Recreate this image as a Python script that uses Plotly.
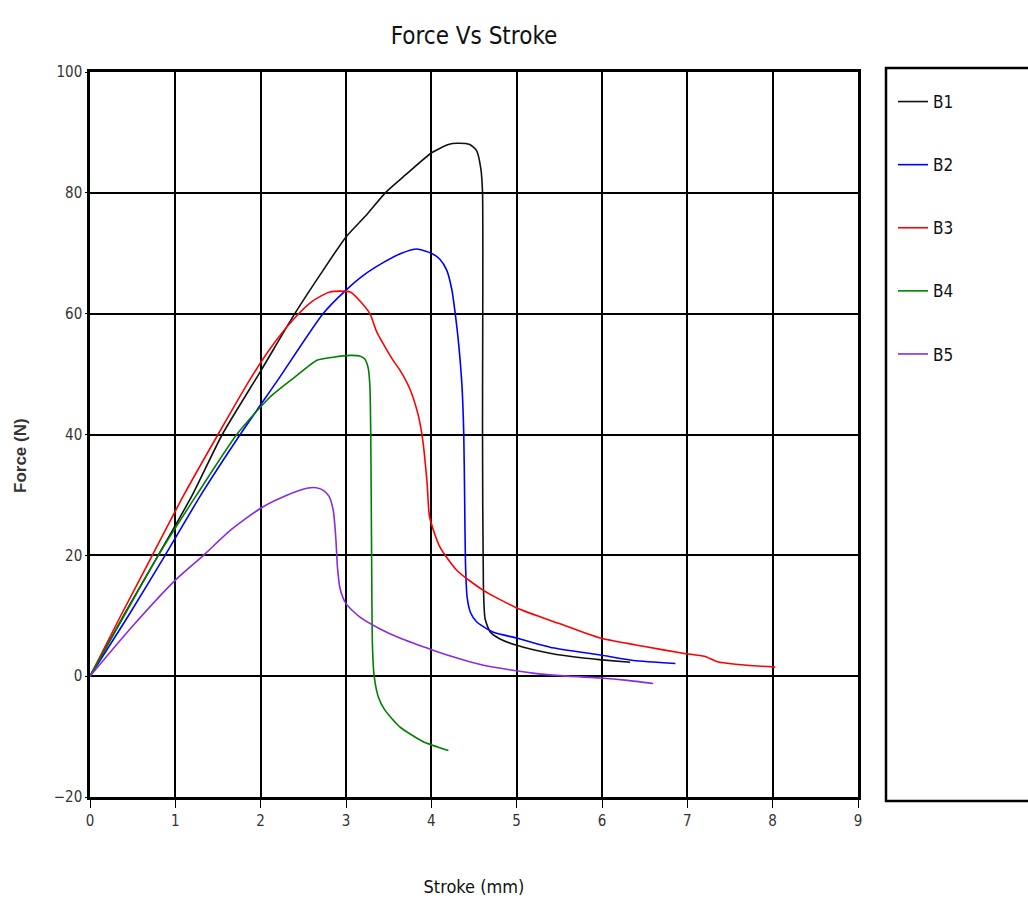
import plotly.graph_objects as go

# ---- data ----
b1_x = [0, 0.4, 0.8, 1.2, 1.55, 2.0, 2.4, 2.7, 3.0, 3.25, 3.46, 3.7, 4.0, 4.2, 4.3, 4.45, 4.53, 4.58, 4.6, 4.6, 4.61, 4.63, 4.69, 4.8, 5.0, 5.39, 5.78, 6.0, 6.33]
b1_y = [0, 10.2, 20, 30, 40, 50.5, 60, 66.5, 72.7, 76.5, 80, 83, 86.6, 88, 88.2, 88, 87, 84, 80, 40, 15, 9.5, 7.3, 6.2, 5.1, 3.8, 3.0, 2.7, 2.3]

b2_x = [0, 0.45, 0.88, 1.3, 1.76, 2.2, 2.73, 3.0, 3.2, 3.43, 3.65, 3.83, 4.0, 4.1, 4.18, 4.24, 4.28, 4.32, 4.36, 4.38, 4.39, 4.4, 4.42, 4.46, 4.53, 4.72, 5.0, 5.39, 5.98, 6.37, 6.86]
b2_y = [0, 10, 20, 30, 40, 49, 60, 63.9, 66.3, 68.4, 70, 70.7, 70, 69, 67.2, 64, 60, 55, 47.8, 40, 30, 18.7, 13, 10.5, 9, 7.3, 6.3, 4.8, 3.5, 2.6, 2.1]

b3_x = [0, 0.36, 0.73, 1.1, 1.5, 1.87, 2.1, 2.38, 2.6, 2.81, 3.05, 3.15, 3.28, 3.36, 3.55, 3.63, 3.75, 3.85, 3.9, 3.95, 3.98, 4.1, 4.3, 4.61, 5.0, 5.5, 5.98, 6.5, 6.95, 7.2, 7.35, 7.7, 8.03]
b3_y = [0, 10, 20, 30, 40, 49, 54, 59, 62, 63.6, 63.6, 62.3, 60, 57, 52.3, 50.7, 47.5, 43, 39, 32, 26.3, 21.4, 17.5, 14.2, 11.3, 8.7, 6.3, 4.9, 3.8, 3.3, 2.4, 1.8, 1.5]

b4_x = [0, 0.4, 0.8, 1.25, 1.72, 2.11, 2.4, 2.66, 2.85, 3.05, 3.16, 3.22, 3.26, 3.28, 3.29, 3.3, 3.31, 3.33, 3.38, 3.45, 3.63, 3.9, 4.2]
b4_y = [0, 10, 20, 30, 40, 46.2, 49.5, 52.3, 52.8, 53.1, 53, 52.5, 51, 48, 40, 20, 5, 0, -3.5, -5.5, -8.4, -10.8, -12.3]

b5_x = [0, 0.5, 1.0, 1.33, 1.65, 2.0, 2.3, 2.54, 2.65, 2.73, 2.8, 2.85, 2.88, 2.9, 2.93, 3.0, 3.16, 3.4, 3.63, 4.02, 4.3, 4.61, 5.19, 5.6, 5.98, 6.3, 6.6]
b5_y = [0, 8.3, 15.9, 20, 24.2, 27.8, 29.9, 31.1, 31.2, 30.8, 29.8, 27.5, 23, 18, 14.5, 12, 9.8, 7.8, 6.3, 4.3, 3.0, 1.8, 0.5, 0, -0.3, -0.7, -1.2]

series_names = ["B1", "B2", "B3", "B4", "B5"]
series_x = [b1_x, b2_x, b3_x, b4_x, b5_x]
series_y = [b1_y, b2_y, b3_y, b4_y, b5_y]
colors = ["#111111", "#0000ff", "#ff0000", "#008000", "#8a2be2"]

x_ticks = [0, 1, 2, 3, 4, 5, 6, 7, 8, 9]
y_ticks = [-20, 0, 20, 40, 60, 80, 100]

NARROW = "Liberation Sans Narrow, Arial Narrow, DejaVu Sans Condensed, Roboto Condensed, Liberation Sans, sans-serif"

fig = go.Figure()
for name, xs, ys, c in zip(series_names, series_x, series_y, colors):
    fig.add_trace(go.Scatter(x=xs, y=ys, mode="lines", name=name, legendgroup=name,
                             line=dict(color=c, width=1.6, shape="spline", smoothing=0.6)))

axis_common = dict(showgrid=True, gridcolor="#000000", gridwidth=2,
                   showline=True, linecolor="#000000", linewidth=2.5, mirror=True,
                   zeroline=True, zerolinecolor="#000000", zerolinewidth=2,
                   ticks="outside", tickcolor="#000000",
                   tickfont=dict(family=NARROW, size=15, color="#333333"))

fig.update_layout(
    width=1028, height=903,
    paper_bgcolor="white", plot_bgcolor="white",
    margin=dict(l=90, r=170, t=72, b=106, autoexpand=False),
    title=dict(text="Force Vs Stroke", x=0.5, xref="paper", xanchor="center",
               y=1 - 36 / 903, yanchor="middle",
               font=dict(family=NARROW, size=24, color="#111111")),
    xaxis=dict(range=[0, 9], tickvals=x_ticks, ticklen=8, ticklabelstandoff=0,
               title=dict(text="Stroke (mm)", standoff=52,
                          font=dict(family=NARROW, size=18, color="#111111")),
               **axis_common),
    yaxis=dict(range=[-20, 100], tickvals=y_ticks, ticklen=2, ticklabelstandoff=0,
               **axis_common),
    annotations=[dict(text="Force (N)", textangle=-90, xref="paper", yref="paper",
                      x=(20 - 90) / 768, y=(797 - 456) / 725, xanchor="center", yanchor="middle",
                      showarrow=False,
                      font=dict(family="Liberation Sans, Arial, sans-serif", size=17,
                                color="#333333", weight="bold"))],
    legend=dict(x=(893 - 90) / 768, xanchor="left", y=1 - (84 - 72) / 725, yanchor="top",
                bgcolor="rgba(0,0,0,0)", borderwidth=0, tracegroupgap=38,
                font=dict(family=NARROW, size=17, color="#111111")),
    shapes=[dict(type="rect", xref="paper", yref="paper",
                 x0=(886 - 90) / 768, x1=(1040 - 90) / 768,
                 y0=(797 - 801) / 725, y1=(797 - 68) / 725,
                 line=dict(color="#000000", width=2.5), fillcolor="rgba(0,0,0,0)", layer="below")],
)

fig.write_html("out.html")
